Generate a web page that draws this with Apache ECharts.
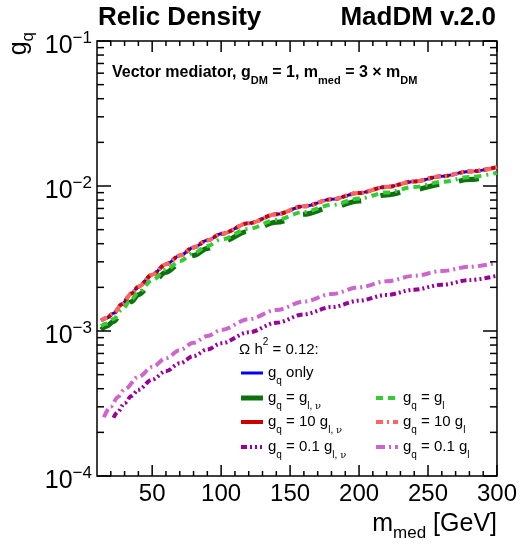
<!DOCTYPE html>
<html>
<head>
<meta charset="utf-8">
<script src="https://cdn.jsdelivr.net/npm/echarts@6/dist/echarts.min.js"></script>
<style>
  html, body { margin: 0; padding: 0; background: #fff; }
  #chart { width: 520px; height: 546px; }
</style>
</head>
<body>
<div id="chart"></div>
<script>
// Relic-density contours: required quark coupling g_q versus mediator mass.
const FONT = '"Liberation Sans", Arial, Helvetica, sans-serif';

// Mediator masses [GeV] for the universal-coupling curves
const massGrid = [13, 17, 22, 28, 35, 40, 50, 60, 70, 80, 90, 100, 120, 140, 160, 180, 200, 220, 240, 260, 280, 300];

// g_q only
const gqOnly = [1.180e-3, 1.230e-3, 1.324e-3, 1.531e-3, 1.811e-3, 2.023e-3, 2.443e-3, 2.884e-3, 3.311e-3, 3.767e-3, 4.217e-3, 4.677e-3, 5.534e-3, 6.383e-3, 7.244e-3, 8.091e-3, 8.954e-3, 9.863e-3, 1.076e-2, 1.167e-2, 1.259e-2, 1.349e-2];
// g_q = g_l,nu
const gqEqLnu = [1.020e-3, 1.080e-3, 1.165e-3, 1.347e-3, 1.594e-3, 1.780e-3, 2.150e-3, 2.538e-3, 2.914e-3, 3.315e-3, 3.711e-3, 4.116e-3, 4.870e-3, 5.617e-3, 6.375e-3, 7.120e-3, 7.880e-3, 8.679e-3, 9.469e-3, 1.027e-2, 1.108e-2, 1.187e-2];
// g_q = g_l
const gqEqL = [1.080e-3, 1.125e-3, 1.211e-3, 1.401e-3, 1.657e-3, 1.851e-3, 2.235e-3, 2.639e-3, 3.030e-3, 3.447e-3, 3.859e-3, 4.279e-3, 5.064e-3, 5.840e-3, 6.628e-3, 7.403e-3, 8.193e-3, 9.025e-3, 9.845e-3, 1.068e-2, 1.152e-2, 1.234e-2];
// g_q = 10 g_l,nu
const gq10Lnu = [1.180e-3, 1.230e-3, 1.324e-3, 1.531e-3, 1.811e-3, 2.023e-3, 2.443e-3, 2.884e-3, 3.311e-3, 3.767e-3, 4.217e-3, 4.677e-3, 5.534e-3, 6.383e-3, 7.244e-3, 8.091e-3, 8.954e-3, 9.863e-3, 1.076e-2, 1.167e-2, 1.259e-2, 1.349e-2];
// g_q = 10 g_l
const gq10L = [1.180e-3, 1.230e-3, 1.324e-3, 1.531e-3, 1.811e-3, 2.023e-3, 2.443e-3, 2.884e-3, 3.311e-3, 3.767e-3, 4.217e-3, 4.677e-3, 5.534e-3, 6.383e-3, 7.244e-3, 8.091e-3, 8.954e-3, 9.863e-3, 1.076e-2, 1.167e-2, 1.259e-2, 1.349e-2];

// g_q = 0.1 g_l,nu
const massDark01 = [22, 25, 30, 35, 40, 50, 60, 70, 80, 90, 100, 120, 140, 160, 180, 200, 220, 240, 260, 280, 300];
const gq01Lnu = [2.523e-4, 2.767e-4, 3.177e-4, 3.565e-4, 3.936e-4, 4.624e-4, 5.284e-4, 5.984e-4, 6.714e-4, 7.464e-4, 8.222e-4, 9.795e-4, 1.140e-3, 1.303e-3, 1.462e-3, 1.618e-3, 1.774e-3, 1.928e-3, 2.084e-3, 2.244e-3, 2.404e-3];
// g_q = 0.1 g_l
const massLight01 = [15, 20, 25, 30, 40, 50, 60, 70, 80, 90, 100, 120, 140, 160, 180, 200, 220, 240, 260, 280, 300];
const gq01L = [2.541e-4, 3.013e-4, 3.499e-4, 3.963e-4, 4.819e-4, 5.636e-4, 6.486e-4, 7.379e-4, 8.299e-4, 9.226e-4, 1.016e-3, 1.205e-3, 1.396e-3, 1.596e-3, 1.799e-3, 2.000e-3, 2.203e-3, 2.404e-3, 2.588e-3, 2.773e-3, 2.958e-3];

// Tick positions
const xMajorTicks = [50, 100, 150, 200, 250, 300];
const xMinorTicks = [20, 30, 40, 60, 70, 80, 90, 110, 120, 130, 140, 160, 170, 180, 190, 210, 220, 230, 240, 260, 270, 280, 290];
const yMajorTicks = [1e-4, 1e-3, 1e-2, 1e-1];
const yMinorTicks = [2e-4, 3e-4, 4e-4, 5e-4, 6e-4, 7e-4, 8e-4, 9e-4,
                     2e-3, 3e-3, 4e-3, 5e-3, 6e-3, 7e-3, 8e-3, 9e-3,
                     2e-2, 3e-2, 4e-2, 5e-2, 6e-2, 7e-2, 8e-2, 9e-2];

const COLORS = {
  blue: '#0000ff',
  darkGreen: '#0e700e',
  lightGreen: '#33cc33',
  darkRed: '#c80000',
  salmon: '#ff6464',
  darkPurple: '#990099',
  orchid: '#cc66cc'
};

const STYLES = {
  gqOnly:  { color: COLORS.blue,       width: 3, dash: 'solid' },
  eqLnu:   { color: COLORS.darkGreen,  width: 5, dash: [20, 20] },
  eqL:     { color: COLORS.lightGreen, width: 4, dash: [7, 5, 7, 5, 2, 5] },
  x10Lnu:  { color: COLORS.darkRed,    width: 4, dash: [5, 3] },
  x10L:    { color: COLORS.salmon,     width: 4, dash: [7, 4, 2, 4] },
  x01Lnu:  { color: COLORS.darkPurple, width: 4, dash: [6, 3, 2, 3, 2, 3, 2, 3] },
  x01L:    { color: COLORS.orchid,     width: 4, dash: [9, 4, 2, 4] }
};

function pairs(xs, ys) { return xs.map((x, i) => [x, ys[i]]); }

function curve(name, xs, ys, st, z) {
  return {
    name, type: 'line', data: pairs(xs, ys), showSymbol: false, smooth: 0.35,
    smoothMonotone: 'x', clip: true, z,
    lineStyle: { color: st.color, width: st.width, type: st.dash, cap: 'butt' }
  };
}

const tickData = [].concat(
  xMajorTicks.map(v => [v, 1e-3, 0]),
  xMinorTicks.map(v => [v, 1e-3, 1]),
  yMajorTicks.map(v => [100, v, 2]),
  yMinorTicks.map(v => [100, v, 3])
);

const SUB = { fontFamily: FONT, fontSize: 10, lineHeight: 10, verticalAlign: 'bottom' };
const SUP = { fontFamily: FONT, fontSize: 10, lineHeight: 10, verticalAlign: 'top' };

function legendText(x, y, txt) {
  return {
    type: 'text', x, y, silent: true,
    style: {
      text: txt, fill: '#000', font: '15px ' + FONT, lineHeight: 26,
      verticalAlign: 'middle', align: 'left',
      rich: { s: SUB, p: SUP, n: { fontFamily: '"DejaVu Serif", serif', fontSize: 10, lineHeight: 10, verticalAlign: 'bottom' } }
    }
  };
}
function legendLine(x1, x2, y, st, solid) {
  return {
    type: 'line', silent: true,
    shape: { x1, y1: y, x2, y2: y },
    style: { stroke: st.color, lineWidth: st.width, lineDash: solid ? null : st.dash }
  };
}

const rowY = [373, 398, 422, 447];
const colA = [241, 263, 268];
const colB = [376, 398, 403];

const chart = echarts.init(document.getElementById('chart'), null, { renderer: 'canvas' });
chart.setOption({
  animation: false,
  backgroundColor: '#fff',
  grid: { left: 97, right: 23, top: 41, bottom: 70, show: true, borderColor: '#000', borderWidth: 1.5, backgroundColor: 'transparent' },
  xAxis: {
    type: 'value', min: 10, max: 300, interval: 10,
    axisLine: { show: false }, axisTick: { show: false }, splitLine: { show: false },
    axisLabel: {
      margin: 6, color: '#000', fontFamily: FONT, fontSize: 24,
      formatter: v => (v % 50 === 0 ? String(v) : '')
    }
  },
  yAxis: {
    type: 'log', logBase: 10, min: 1e-4, max: 1e-1,
    axisLine: { show: false }, axisTick: { show: false }, splitLine: { show: false },
    axisLabel: {
      margin: 5, color: '#000', fontFamily: FONT, fontSize: 25, lineHeight: 32,
      padding: [10, 0, 0, 0],
      formatter: v => '10{p|\u2212' + Math.round(-Math.log10(v)) + '}',
      rich: { p: { fontFamily: FONT, fontSize: 17, lineHeight: 17, verticalAlign: 'top', color: '#000' } }
    }
  },
  series: [
    curve('g_q only', massGrid, gqOnly, STYLES.gqOnly, 2),
    curve('g_q = g_l,nu', massGrid, gqEqLnu, STYLES.eqLnu, 3),
    curve('g_q = 10 g_l,nu', massGrid, gq10Lnu, STYLES.x10Lnu, 4),
    curve('g_q = 0.1 g_l,nu', massDark01, gq01Lnu, STYLES.x01Lnu, 5),
    curve('g_q = g_l', massGrid, gqEqL, STYLES.eqL, 6),
    curve('g_q = 10 g_l', massGrid, gq10L, STYLES.x10L, 7),
    curve('g_q = 0.1 g_l', massLight01, gq01L, STYLES.x01L, 8),
    {
      // frame tick marks on all four sides
      type: 'custom', silent: true, z: 10, data: tickData,
      renderItem(params, api) {
        const cs = params.coordSys;
        const kind = api.value(2);
        const segs = [];
        if (kind < 2) {
          const x = api.coord([api.value(0), 1e-3])[0];
          const len = kind === 0 ? 11 : 5;
          segs.push([x, cs.y + cs.height, x, cs.y + cs.height - len]);
          segs.push([x, cs.y, x, cs.y + len]);
        } else {
          const y = api.coord([100, api.value(1)])[1];
          const len = kind === 2 ? 14 : 7;
          segs.push([cs.x, y, cs.x + len, y]);
          segs.push([cs.x + cs.width, y, cs.x + cs.width - len, y]);
        }
        return {
          type: 'group',
          children: segs.map(s => ({
            type: 'line', shape: { x1: s[0], y1: s[1], x2: s[2], y2: s[3] },
            style: { stroke: '#000', lineWidth: 1.5 }
          }))
        };
      }
    }
  ],
  graphic: [
    { type: 'text', x: 98, y: 18, silent: true,
      style: { text: 'Relic Density', font: 'bold 26px ' + FONT, fill: '#000', align: 'left', verticalAlign: 'middle' } },
    { type: 'text', x: 496, y: 18, silent: true,
      style: { text: 'MadDM v.2.0', font: 'bold 26px ' + FONT, fill: '#000', align: 'right', verticalAlign: 'middle' } },
    { type: 'text', x: 112, y: 73, silent: true,
      style: {
        text: 'Vector mediator, g{s|DM} = 1, m{s|med} = 3 \u00d7 m{s|DM}',
        font: 'bold 16px ' + FONT, fill: '#000', lineHeight: 26, align: 'left', verticalAlign: 'middle',
        rich: { s: { fontFamily: FONT, fontWeight: 'bold', fontSize: 11, lineHeight: 11, verticalAlign: 'bottom' } }
      } },
    // axis titles
    { type: 'text', x: 497, y: 524, silent: true,
      style: {
        text: 'm{s|med} [GeV]', font: '25px ' + FONT, fill: '#000', lineHeight: 36, align: 'right', verticalAlign: 'middle',
        rich: { s: { fontFamily: FONT, fontSize: 17, lineHeight: 17, verticalAlign: 'bottom' } }
      } },
    { type: 'text', x: 19, y: 32, rotation: Math.PI / 2, silent: true,
      style: {
        text: 'g{s|q}', font: '25px ' + FONT, fill: '#000', lineHeight: 36, align: 'right', verticalAlign: 'middle',
        rich: { s: { fontFamily: FONT, fontSize: 17, lineHeight: 17, verticalAlign: 'bottom' } }
      } },
    // legend
    legendText(239, 350, '\u03a9 h{p|2} = 0.12:'),
    legendLine(colA[0], colA[1], rowY[0], STYLES.gqOnly, true),
    legendText(colA[2], rowY[0], 'g{s|q} only'),
    legendLine(colA[0], colA[1], rowY[1], STYLES.eqLnu, true),
    legendText(colA[2], rowY[1], 'g{s|q} = g{s|l, }{n|\u03bd}'),
    legendLine(colA[0], colA[1], rowY[2], STYLES.x10Lnu, true),
    legendText(colA[2], rowY[2], 'g{s|q} = 10 g{s|l, }{n|\u03bd}'),
    legendLine(colA[0], colA[1], rowY[3], STYLES.x01Lnu, false),
    legendText(colA[2], rowY[3], 'g{s|q} = 0.1 g{s|l, }{n|\u03bd}'),
    legendLine(colB[0], colB[1], rowY[1], STYLES.eqL, false),
    legendText(colB[2], rowY[1], 'g{s|q} = g{s|l}'),
    legendLine(colB[0], colB[1], rowY[2], STYLES.x10L, false),
    legendText(colB[2], rowY[2], 'g{s|q} = 10 g{s|l}'),
    legendLine(colB[0], colB[1], rowY[3], STYLES.x01L, false),
    legendText(colB[2], rowY[3], 'g{s|q} = 0.1 g{s|l}')
  ]
});
</script>
</body>
</html>
